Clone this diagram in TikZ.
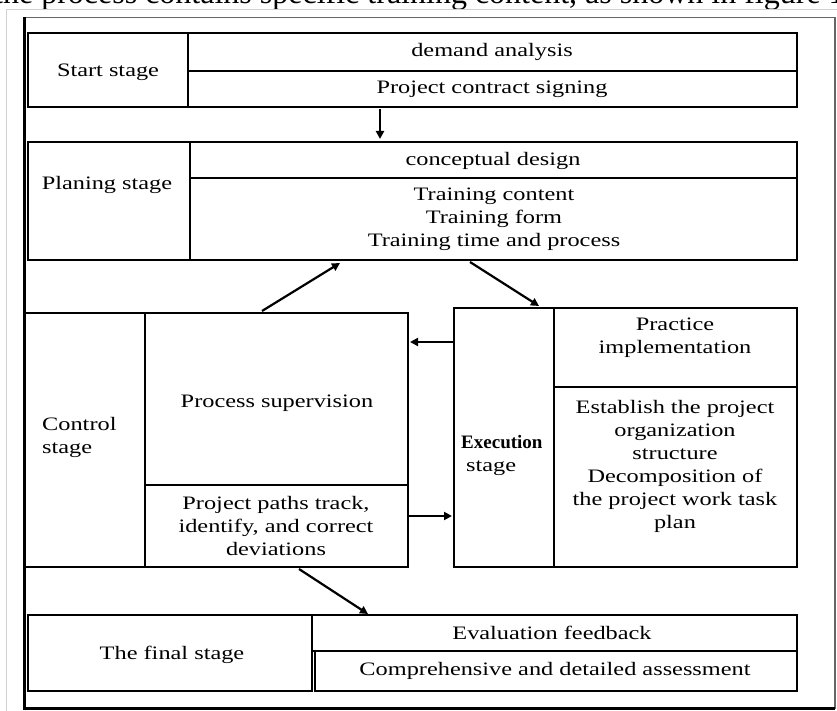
\documentclass[tikz,border=0pt]{standalone}
\usepackage{fontspec}
\setmainfont{Liberation Serif}[FakeStretch=1.28]
\newfontfamily\bodyfont{Liberation Serif}
\usetikzlibrary{arrows.meta,calc}

\begin{document}
\begin{tikzpicture}[x=1pt,y=-1pt,
  box/.style={draw, line width=2.7pt, rectangle, anchor=north west,
              inner sep=0pt, outer sep=0pt},
  txt/.style={font=\fontsize{19}{23}\selectfont, align=center, inner sep=0pt},
  arr/.style={line width=2.2pt, -{Triangle[length=8pt,width=8pt]}}]

\useasboundingbox (0,0) rectangle (837,711);

% running text above the figure (cut by the page edge)
\node[anchor=base west, inner sep=0pt, font=\bodyfont\fontsize{32}{36}\selectfont]
  (caption) at (-6,4) {the process contains specific training content, as shown in figure 1};

% page frame and figure frame
\draw[black!18, line width=0.8pt] (6,720) -- (6,9) -- (837,9);
\draw[black!60, line width=1.2pt] (24.5,17.5) -- (835,17.5) -- (835,708.5);
\draw[black, line width=2.6pt] (24.5,17.5) -- (24.5,708.5) -- (835,708.5);

% start stage
\node[box, minimum width=160pt, minimum height=74pt] (startL) at (28,33) {};
\node[box, minimum width=609pt, minimum height=38pt] (startA) at (188,33) {};
\node[box, minimum width=609pt, minimum height=36pt] (startB) at (188,71) {};
% planning stage
\node[box, minimum width=162pt, minimum height=118pt] (planL) at (28,142) {};
\node[box, minimum width=607pt, minimum height=36pt] (planA) at (190,142) {};
\node[box, minimum width=607pt, minimum height=82pt] (planB) at (190,178) {};
% control stage
\node[box, minimum width=120pt, minimum height=254pt] (ctrlL) at (25,313) {};
\node[box, minimum width=263pt, minimum height=172pt] (ctrlA) at (145,313) {};
\node[box, minimum width=263pt, minimum height=82pt] (ctrlB) at (145,485) {};
% execution stage
\node[box, minimum width=100pt, minimum height=259pt] (execL) at (454,308) {};
\node[box, minimum width=243pt, minimum height=79pt] (execA) at (554,308) {};
\node[box, minimum width=243pt, minimum height=180pt] (execB) at (554,387) {};
% final stage
\node[box, minimum width=284pt, minimum height=76pt] (finL) at (28,615) {};
\node[box, minimum width=485pt, minimum height=36pt] (finA) at (312,615) {};
\node[box, minimum width=482pt, minimum height=40pt] (finB) at (315,651) {};

% labels
\node[txt] (tStart) at (108,72) {Start stage};
\node[txt] (tDemand) at (492,52) {demand analysis};
\node[txt] (tContract) at (492,89) {Project contract signing};
\node[txt] (tPlan) at (107,185) {Planing stage};
\node[txt] (tConcept) at (493,161) {conceptual design};
\node[txt] (tTraining) at (494,219) {Training content\\Training form\\Training time and process};
\node[txt, align=left, anchor=west] (tControl) at (42,437) {Control\\stage};
\node[txt] (tSuper) at (277,403) {Process supervision};
\node[txt] (tPaths) at (276,526) {Project paths track,\\identify, and correct\\deviations};
\node[txt, align=left, anchor=west] (tExec) at (461,455)
  {{\bodyfont\bfseries Execution}\\\hspace{5pt}stage};
\node[txt] (tPractice) at (675,338) {Practice\\implementation};
\node[txt] (tEstablish) at (675,466) {Establish the project\\organization\\structure\\Decomposition of\\the project work task\\plan};
\node[txt] (tFinal) at (172,655) {The final stage};
\node[txt] (tEval) at (552,633) {Evaluation feedback};
\node[txt] (tAssess) at (555,671) {Comprehensive and detailed assessment};

% connectors
\draw[arr] ([xshift=192pt,yshift=-2pt]startB.south west) -- ([xshift=190pt,yshift=3pt]planA.north west);
\draw[arr] ([xshift=117pt,yshift=2pt]ctrlA.north west) -- ([xshift=150pt,yshift=-3pt]planB.south west);
\draw[arr] ([xshift=280pt,yshift=-2pt]planB.south west) -- ([xshift=85pt,yshift=2pt]execL.north west);
\draw[arr] ([yshift=-34pt,xshift=-1pt]execL.north west) -- ([yshift=-29pt,xshift=2pt]ctrlA.north east);
\draw[arr] ([yshift=-31pt]ctrlB.north east) -- ([yshift=-208pt,xshift=-2pt]execL.north west);
\draw[arr] ([xshift=154pt,yshift=-2pt]ctrlB.south west) -- ([xshift=56pt,yshift=1pt]finA.north west);
\end{tikzpicture}
\end{document}
